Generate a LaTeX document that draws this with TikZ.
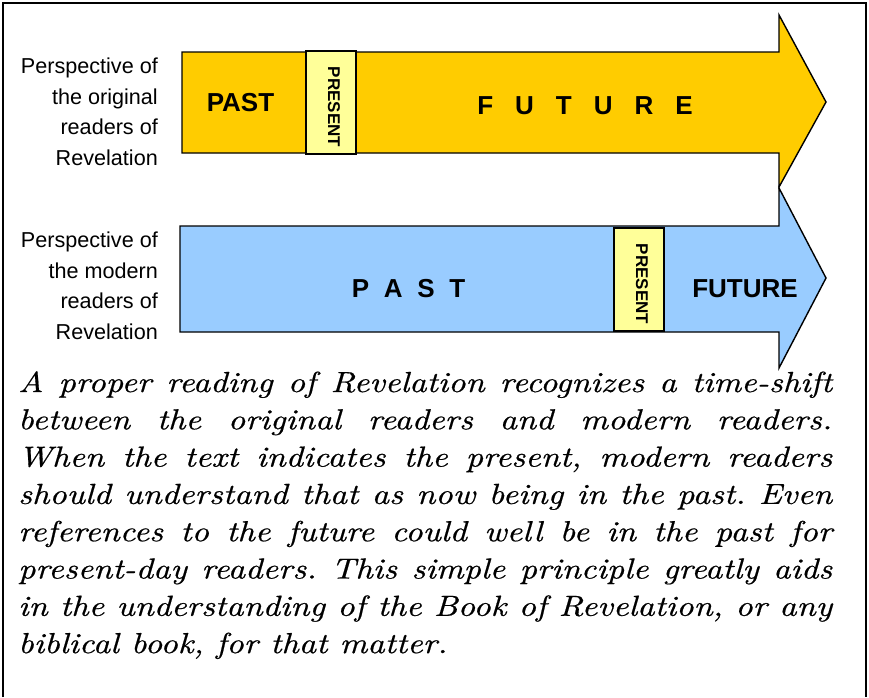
\documentclass[tikz,border=0pt]{standalone}
\usepackage{fontspec}
\newfontfamily\arial{Liberation Sans}
\newfontfamily\paraf{lmroman10-italic.otf}[FakeStretch=1.17,FakeBold=0.6]
\definecolor{gold}{HTML}{FFCC00}
\definecolor{sky}{HTML}{99CCFF}
\definecolor{paleyellow}{HTML}{FFFF99}
\begin{document}
\begin{tikzpicture}[x=1pt,y=-1pt,
  arrowshape/.style={draw=black, line width=1.4pt, line join=miter},
  presbox/.style={draw=black, line width=1.4pt, fill=paleyellow, minimum width=50pt, minimum height=103pt, inner sep=0pt},
  prestext/.style={rotate=-90, inner sep=0pt, font=\arial\bfseries\fontsize{17}{17}\selectfont},
  bigword/.style={inner sep=0pt, font=\arial\bfseries\fontsize{26}{26}\selectfont},
  lbl/.style={inner sep=0pt, align=right, anchor=north east, font=\arial\fontsize{21.6}{30.5}\selectfont}]
\useasboundingbox (0,0) rectangle (869,697);
\draw[line width=1.6pt] (3,697) -- (3,3) -- (866,3) -- (866,697);
% top arrow
\draw[arrowshape, fill=gold] (182,52) -- (779,52) -- (779,15) -- (826,102) -- (779,187) -- (779,153) -- (182,153) -- cycle;
\node[presbox] (p1) at (331,102.5) {};
\node[prestext] (p1t) at (334,107) {PRESENT};
\node[bigword] (past1) at (240.5,103) {PAST};
\node[bigword] (fut1) at (585,106) {F\hspace{22pt}U\hspace{22pt}T\hspace{22pt}U\hspace{22pt}R\hspace{22pt}E};
% bottom arrow
\draw[arrowshape, fill=sky] (180,226) -- (779,226) -- (779,188) -- (826,278) -- (779,368) -- (779,332) -- (180,332) -- cycle;
\node[presbox] (p2) at (639,279.5) {};
\node[prestext] (p2t) at (642,284) {PRESENT};
\node[bigword] (past2) at (408.5,289) {P\hspace{14.7pt}A\hspace{14.7pt}S\hspace{14.7pt}T};
\node[bigword] (fut2) at (745,288.5) {FUTURE};
% labels
\node[lbl] (l1) at (158,58) {Perspective of\\the original\\readers of\\Revelation};
\node[lbl] (l2) at (158,232) {Perspective of\\the modern\\readers of\\Revelation};
% paragraph
\node[anchor=base west, inner sep=0pt] (para) at (18,392) {\parbox[t]{814pt}{\paraf\fontsize{29}{37.3}\selectfont\frenchspacing\setlength{\parindent}{0pt}\setlength{\parskip}{0pt}%
\makebox[\linewidth][s]{A proper reading of Revelation recognizes a time-shift}\par
\makebox[\linewidth][s]{between the original readers and modern readers.}\par
\makebox[\linewidth][s]{When the text indicates the present, modern readers}\par
\makebox[\linewidth][s]{should understand that as now being in the past. Even}\par
\makebox[\linewidth][s]{references to the future could well be in the past for}\par
\makebox[\linewidth][s]{present-day readers. This simple principle greatly aids}\par
\makebox[\linewidth][s]{in the understanding of the Book of Revelation, or any}\par
biblical book, for that matter.}};
\end{tikzpicture}
\end{document}
